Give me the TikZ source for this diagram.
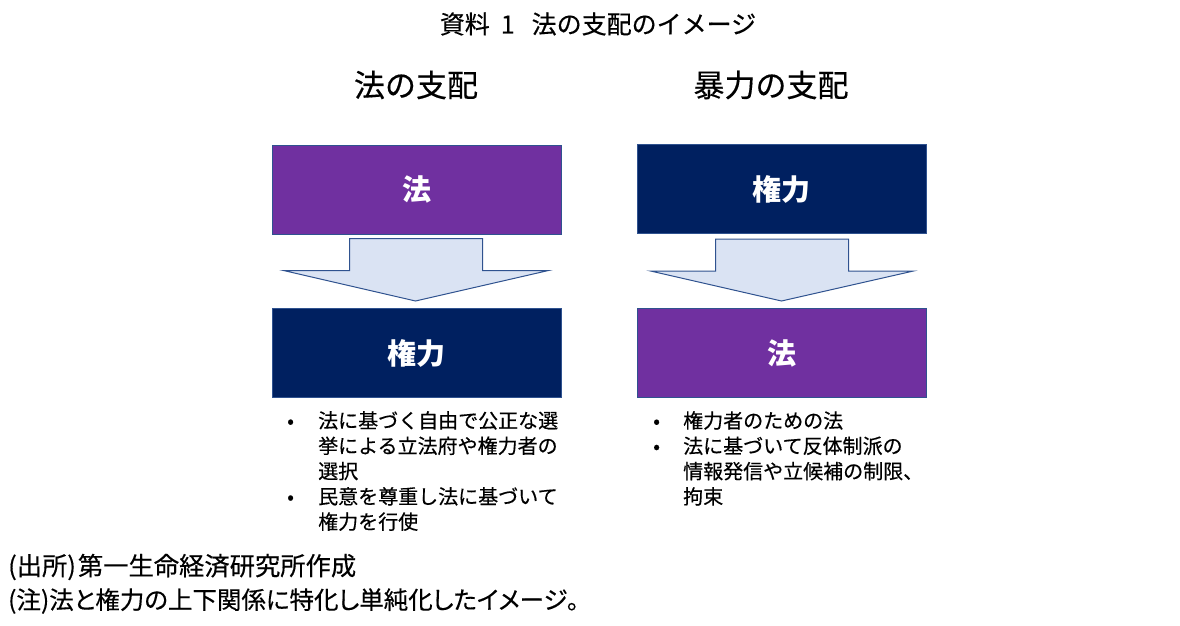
\documentclass[tikz,border=0pt]{standalone}
\usepackage{fontspec}
\setmainfont{Noto Sans CJK JP}
\newfontfamily\jpmed[FakeBold=0.4]{Noto Sans CJK JP}
\newfontfamily\jpprop[FakeBold=0.4,RawFeature=+palt]{Noto Sans CJK JP}
\definecolor{lawpurple}{HTML}{7030A0}
\definecolor{navybox}{HTML}{002060}
\definecolor{edgeblue}{HTML}{2F528F}
\definecolor{arrowfill}{HTML}{DAE3F3}
\begin{document}
\begin{tikzpicture}[x=1pt,y=-1pt,
  box/.style={draw=edgeblue,line width=1pt,minimum width=289pt,minimum height=89pt,inner sep=0pt,
    text=white,font=\fontsize{29}{32}\selectfont\bfseries},
  blockarrow/.style={draw=edgeblue,line width=1pt,fill=arrowfill,line join=miter},
  heading/.style={font=\jpmed\fontsize{31}{36}\selectfont,inner sep=0pt},
  listtext/.style={font=\jpmed\fontsize{20}{25.3}\selectfont,align=left,anchor=north west,inner sep=0pt},
  foot/.style={font=\jpprop\fontsize{24.5}{28}\selectfont,anchor=west,inner sep=0pt}]
\useasboundingbox (0,0) rectangle (1180,626);
\node[font=\jpmed\fontsize{25}{28}\selectfont,inner sep=0pt] (title) at (598,24) {資料\hspace{11pt}1\hspace{17pt}法の支配のイメージ};
\node[heading] (hl) at (416,85) {法の支配};
\node[heading] (hr) at (771,85) {暴力の支配};
% left column
\node[box,fill=lawpurple] (lt) at (416.5,189.5) {法};
\node[box,fill=navybox] (lb) at (416.5,353) {権力};
\draw[blockarrow] ([xshift=-67pt,yshift=-4pt]lt.south) -- ([xshift=66pt,yshift=-4pt]lt.south)
  -- ([xshift=66pt,yshift=-36pt]lt.south) -- ([xshift=132pt,yshift=-36pt]lt.south)
  -- ([xshift=-1pt,yshift=7pt]lb.north) -- ([xshift=-133pt,yshift=-36pt]lt.south)
  -- ([xshift=-67pt,yshift=-36pt]lt.south) -- cycle;
% right column
\node[box,fill=navybox] (rt) at (781.5,189) {権力};
\node[box,fill=lawpurple] (rb) at (781.5,353) {法};
\draw[blockarrow] ([xshift=-66pt,yshift=-5pt]rt.south) -- ([xshift=67pt,yshift=-5pt]rt.south)
  -- ([xshift=67pt,yshift=-37pt]rt.south) -- ([xshift=132pt,yshift=-37pt]rt.south)
  -- ([yshift=7pt]rb.north) -- ([xshift=-131pt,yshift=-37pt]rt.south)
  -- ([xshift=-66pt,yshift=-37pt]rt.south) -- cycle;
% lists
\node[listtext] (ll) at (287,411) {\makebox[31pt][l]{•}法に基づく自由で公正な選\\
\hspace*{31pt}挙による立法府や権力者の\\
\hspace*{31pt}選択\\
\makebox[31pt][l]{•}民意を尊重し法に基づいて\\
\hspace*{31pt}権力を行使};
\node[listtext] (rl) at (653,411) {\makebox[30pt][l]{•}権力者のための法\\
\makebox[30pt][l]{•}法に基づいて反体制派の\\
\hspace*{30pt}情報発信や立候補の制限、\\
\hspace*{30pt}拘束};
% footnotes
\node[foot,font=\jpprop\fontsize{25.3}{28}\selectfont] (f1) at (8,567) {(出所)\hspace{2pt}第一生命経済研究所作成};
\node[foot] (f2) at (8,601) {(注)法と権力の上下関係に特化し単純化したイメージ。};
\end{tikzpicture}
\end{document}
